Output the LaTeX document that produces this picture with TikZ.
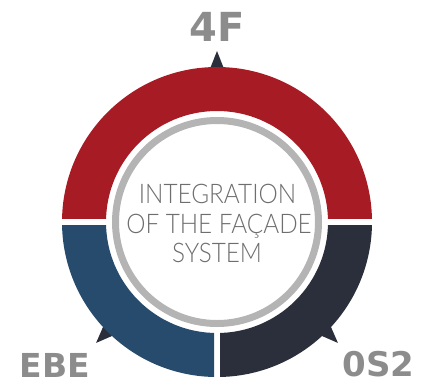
\documentclass[tikz,border=0pt]{standalone}
\usepackage{fontspec}
\newfontfamily\lblfont{DejaVu Sans}
\newfontfamily\ctrfont[FakeStretch=0.9]{Lato Light}
\definecolor{bandred}{HTML}{A71C24}
\definecolor{bandblue}{HTML}{274B6D}
\definecolor{banddark}{HTML}{2B2F3B}
\definecolor{ringgray}{HTML}{B4B4B4}
\definecolor{lblgray}{HTML}{8C8C8C}
\definecolor{txtgray}{HTML}{6E6E6E}
\tikzset{
  lbl/.style={inner sep=0pt, text=lblgray, font=\lblfont\bfseries},
  ctr/.style={inner sep=0pt, anchor=base, text=txtgray, font=\ctrfont\fontsize{27}{30}\selectfont},
  pointer/.style={fill=banddark}
}
\begin{document}
\begin{tikzpicture}[x=1pt,y=-1pt]
\useasboundingbox (0,0) rectangle (427,383);
\begin{scope}[shift={(217,222)}, y=1pt]
  % pointers
  \fill[pointer] (90:171) -- (86.8:150) -- (93.2:150) -- cycle;
  \fill[pointer] (225:171) -- (221.8:150) -- (228.2:150) -- cycle;
  \fill[pointer] (-45:171) -- (-48.2:150) -- (-41.8:150) -- cycle;
  % red upper half
  \begin{scope}
    \clip (-160,3.5) rectangle (160,160);
    \fill[bandred, even odd rule] (0,0) circle (155) (0,0) circle (111);
  \end{scope}
  % blue lower-left
  \begin{scope}
    \clip (-160,-3.5) rectangle (-3,-160);
    \fill[bandblue, even odd rule] (0,0) circle (155) (0,0) circle (111);
  \end{scope}
  % dark lower-right
  \begin{scope}
    \clip (3,-3.5) rectangle (160,-160);
    \fill[banddark, even odd rule] (0,0) circle (155) (0,0) circle (111);
  \end{scope}
  % inner ring
  \draw[ringgray, line width=7pt] (0,0) circle (101.5);
\end{scope}
% labels
\node[lbl, font=\lblfont\bfseries\fontsize{40}{40}\selectfont] (l4f) at (217.5,27) {4F};
\node[lbl, font=\lblfont\bfseries\fontsize{33}{33}\selectfont] (lebe) at (55,365) {EBE};
\node[lbl, font=\lblfont\bfseries\fontsize{34}{34}\selectfont] (los2) at (378.5,364.5) {0S2};
% centre text
\node[ctr] (t1) at (217.5,203) {INTEGRATION};
\node[ctr] (t2) at (219,233) {OF THE FAÇADE};
\node[ctr] (t3) at (217,262.5) {SYSTEM};
\end{tikzpicture}
\end{document}
